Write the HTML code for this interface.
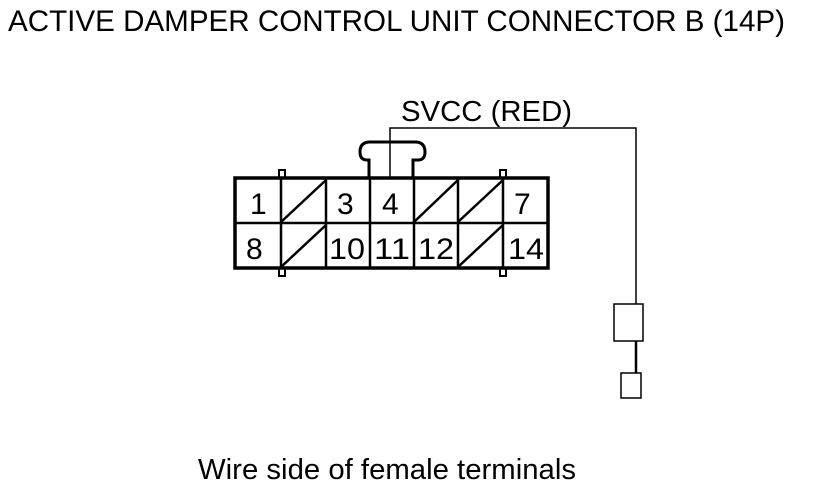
<!DOCTYPE html>
<html><head><style>html,body{margin:0;padding:0;background:#fff}</style></head>
<body>
<svg width="816" height="490" xmlns="http://www.w3.org/2000/svg" font-family="Liberation Sans, sans-serif">
<rect width="816" height="490" fill="#fff"/>
<text x="8" y="31" font-size="30" textLength="777" lengthAdjust="spacingAndGlyphs">ACTIVE DAMPER CONTROL UNIT CONNECTOR B (14P)</text>
<text x="401" y="121" font-size="29" textLength="171" lengthAdjust="spacingAndGlyphs">SVCC (RED)</text>
<text x="198" y="479" font-size="29" textLength="378" lengthAdjust="spacingAndGlyphs">Wire side of female terminals</text>
<g fill="none" stroke="#000">
<path d="M369 178 V160 H367 Q360 160 360 152 Q360 142 370 142 H415 Q425 142 425 152 Q425 160 418 160 H413 V178" stroke-width="3"/>
<rect x="279" y="170" width="6" height="8" stroke-width="2"/>
<rect x="500" y="170" width="6" height="8" stroke-width="2"/>
<rect x="279" y="268" width="6" height="8" stroke-width="2"/>
<rect x="500" y="268" width="6" height="8" stroke-width="2"/>
<rect x="235" y="178" width="313" height="90" stroke-width="3.5"/>
<line x1="235" y1="223" x2="548" y2="223" stroke-width="2.5"/>
<g stroke-width="2.5">
<line x1="281" y1="178" x2="281" y2="268"/>
<line x1="326" y1="178" x2="326" y2="268"/>
<line x1="370" y1="178" x2="370" y2="268"/>
<line x1="414" y1="178" x2="414" y2="268"/>
<line x1="458" y1="178" x2="458" y2="268"/>
<line x1="503" y1="178" x2="503" y2="268"/>
<line x1="281" y1="222" x2="326" y2="180"/>
<line x1="414" y1="222" x2="458" y2="180"/>
<line x1="458" y1="222" x2="503" y2="180"/>
<line x1="281" y1="267" x2="326" y2="225"/>
<line x1="458" y1="267" x2="503" y2="225"/>
</g>
<polyline points="390,178 390,128 636,128 636,304" stroke-width="1.5"/>
<rect x="614" y="304" width="29" height="37" stroke-width="1.5"/>
<line x1="636" y1="341" x2="636" y2="373" stroke-width="2.5"/>
<rect x="621" y="373" width="20" height="25" stroke-width="1.5"/>
</g>
<g font-size="30" fill="#000">
<text x="250" y="214">1</text>
<text x="337" y="214">3</text>
<text x="382" y="214">4</text>
<text x="514" y="214">7</text>
<text x="246" y="259">8</text>
<text x="329" y="259" textLength="36" lengthAdjust="spacingAndGlyphs">10</text>
<text x="374" y="259" textLength="36" lengthAdjust="spacingAndGlyphs">11</text>
<text x="418" y="259" textLength="36" lengthAdjust="spacingAndGlyphs">12</text>
<text x="508" y="259" textLength="36" lengthAdjust="spacingAndGlyphs">14</text>
</g>
</svg>
</body></html>
